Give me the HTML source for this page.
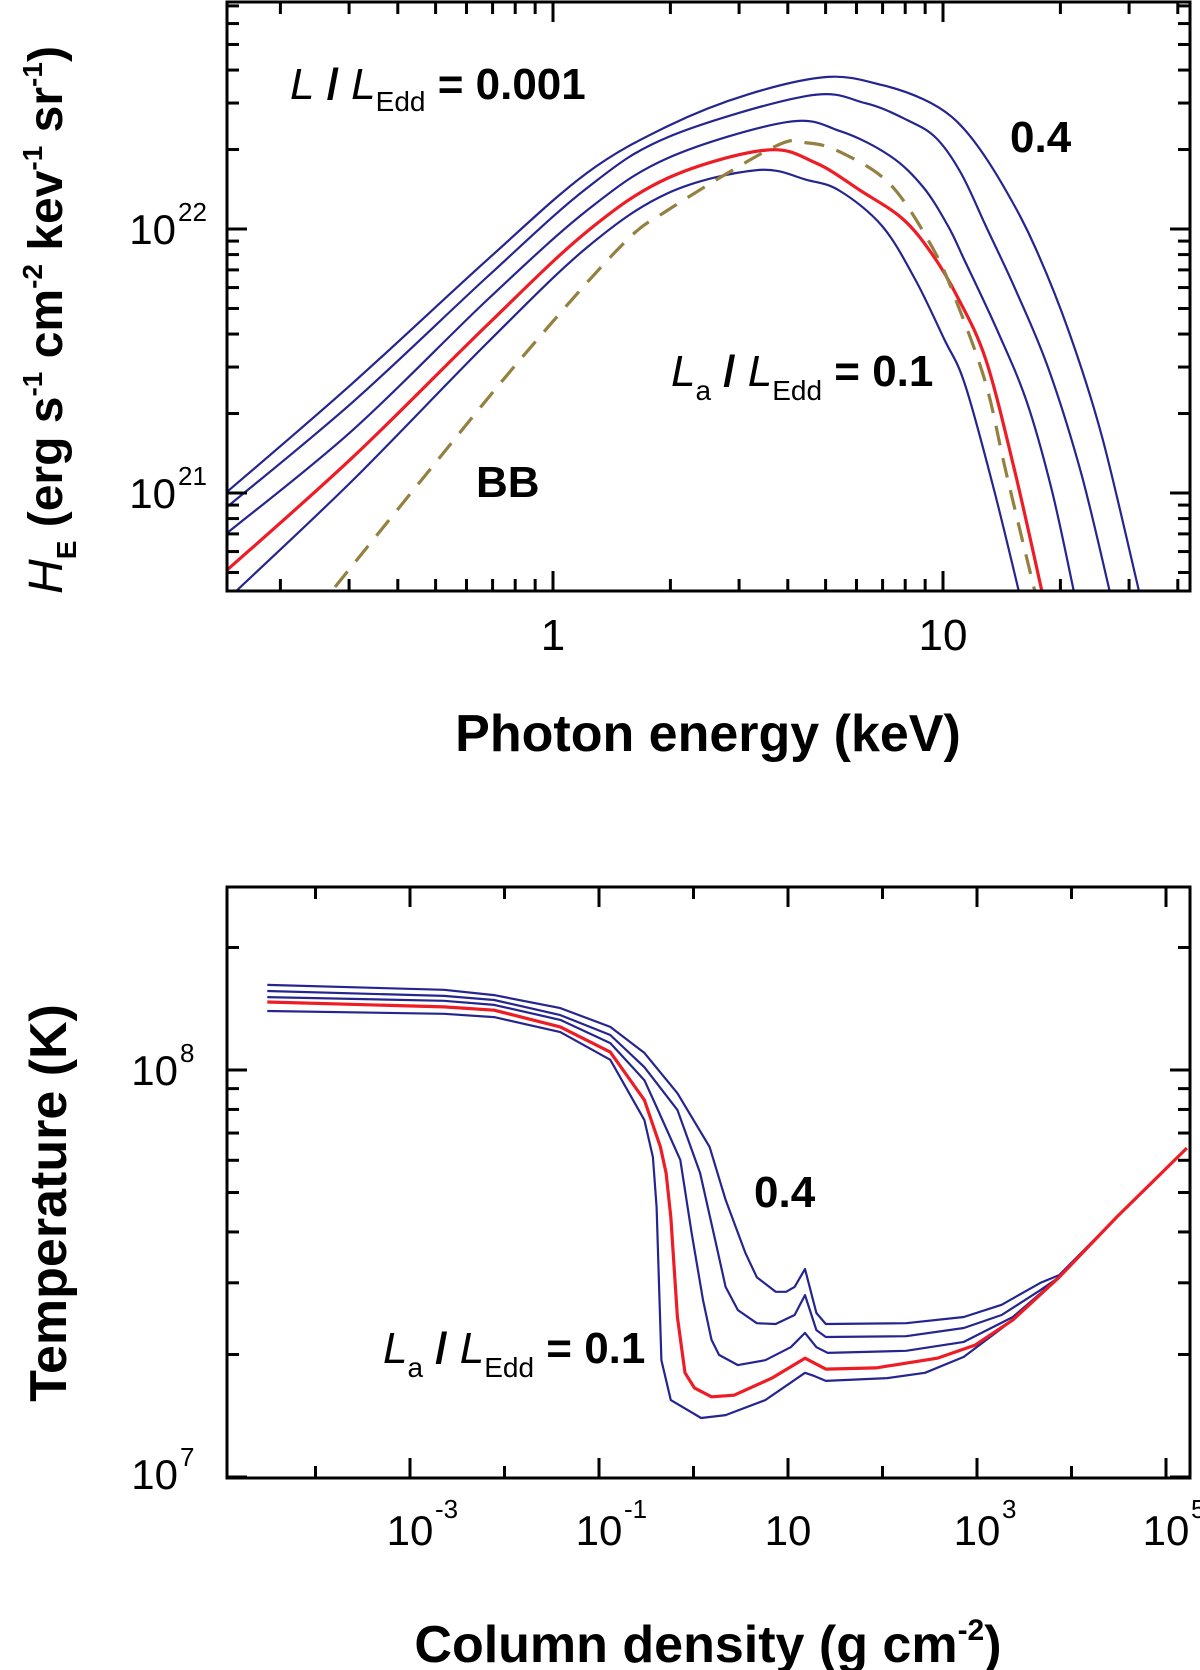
<!DOCTYPE html>
<html><head><meta charset="utf-8"><style>
html,body{margin:0;padding:0;background:#fff;}
svg{display:block;font-family:"Liberation Sans",sans-serif;}
</style></head><body>
<svg id="fig" width="1200" height="1670" viewBox="0 0 1200 1670" xmlns="http://www.w3.org/2000/svg">
<defs>
<clipPath id="clipTop"><rect x="227" y="2" width="963" height="589"/></clipPath>
<clipPath id="clipBot"><rect x="227" y="887" width="963" height="591"/></clipPath>
</defs>
<g id="top"></g>
<g id="bot"></g>

<text x="708" y="751" font-size="52" font-weight="bold" text-anchor="middle">Photon energy (keV)</text>
<text transform="translate(62,320) rotate(-90)" font-size="48" font-weight="bold" text-anchor="middle"><tspan font-style="italic" font-weight="normal">H</tspan><tspan font-size="28" dy="14">E</tspan><tspan dy="-14"> (erg s</tspan><tspan font-size="28" dy="-20">-1</tspan><tspan dy="20"> cm</tspan><tspan font-size="28" dy="-20">-2</tspan><tspan dy="20"> kev</tspan><tspan font-size="28" dy="-20">-1</tspan><tspan dy="20"> sr</tspan><tspan font-size="28" dy="-20">-1</tspan><tspan dy="20">)</tspan></text>

<text x="290" y="99" font-size="44" font-weight="bold"><tspan font-style="italic" font-weight="normal">L</tspan><tspan> / </tspan><tspan font-style="italic" font-weight="normal">L</tspan><tspan font-size="28" dy="12" font-weight="normal">Edd</tspan><tspan dy="-12"> = 0.001</tspan></text>
<text x="1010" y="152" font-size="44" font-weight="bold">0.4</text>
<text x="671" y="386" font-size="44" font-weight="bold"><tspan font-style="italic" font-weight="normal">L</tspan><tspan font-size="28" dy="14" font-weight="normal">a</tspan><tspan dy="-14"> / </tspan><tspan font-style="italic" font-weight="normal">L</tspan><tspan font-size="28" dy="14" font-weight="normal">Edd</tspan><tspan dy="-14"> = 0.1</tspan></text>
<text x="476" y="497" font-size="44" font-weight="bold">BB</text>

<text x="708" y="1662" font-size="52" font-weight="bold" text-anchor="middle">Column density (g cm<tspan font-size="30" dy="-22">-2</tspan><tspan dy="22">)</tspan></text>
<text transform="translate(66,1203) rotate(-90)" font-size="52" font-weight="bold" text-anchor="middle">Temperature (K)</text>
<text x="754" y="1207" font-size="44" font-weight="bold">0.4</text>
<text x="383" y="1363" font-size="44" font-weight="bold"><tspan font-style="italic" font-weight="normal">L</tspan><tspan font-size="28" dy="14" font-weight="normal">a</tspan><tspan dy="-14"> / </tspan><tspan font-style="italic" font-weight="normal">L</tspan><tspan font-size="28" dy="14" font-weight="normal">Edd</tspan><tspan dy="-14"> = 0.1</tspan></text>
</svg>
<script>
// ---------- TOP PANEL DATA (log10 E [keV], log10 H) ----------
const topCurve1 = [[-0.836,21.004],[-0.513,21.417],[-0.169,21.883],[0.087,22.212],[0.295,22.390],[0.50,22.51],[0.705,22.576],[0.844,22.545],[0.949,22.492],[1.023,22.424],[1.087,22.318],[1.162,22.144],[1.236,21.932],[1.323,21.610],[1.408,21.212],[1.503,20.625]];
const topCurve2 = [[-0.836,20.947],[-0.513,21.345],[-0.169,21.818],[0.087,22.155],[0.295,22.348],[0.651,22.504],[0.800,22.477],[0.908,22.413],[0.982,22.345],[1.046,22.212],[1.110,22.011],[1.185,21.773],[1.269,21.477],[1.354,21.076],[1.428,20.625]];
const topCurve3 = [[-0.836,20.848],[-0.513,21.239],[-0.169,21.731],[0.087,22.07],[0.295,22.269],[0.600,22.405],[0.736,22.371],[0.864,22.277],[0.949,22.159],[1.013,22.011],[1.056,21.879],[1.141,21.610],[1.215,21.345],[1.279,21.011],[1.336,20.625]];
const topRed = [[-0.836,20.708],[-0.513,21.136],[-0.169,21.636],[0.087,21.99],[0.295,22.193],[0.546,22.299],[0.674,22.250],[0.790,22.144],[0.897,22.038],[0.972,21.905],[1.036,21.746],[1.110,21.504],[1.185,21.076],[1.254,20.625]];
const topCurve5 = [[-0.815,20.625],[-0.513,21.049],[-0.169,21.568],[0.087,21.93],[0.295,22.136],[0.523,22.223],[0.651,22.186],[0.736,22.144],[0.844,22.011],[0.928,21.811],[1.003,21.583],[1.056,21.413],[1.131,21.011],[1.195,20.625]];
const topBB = [[-0.559,20.644],[-0.341,21.042],[-0.085,21.504],[0.172,21.932],[0.295,22.072],[0.567,22.311],[0.651,22.326],[0.736,22.292],[0.864,22.170],[0.972,21.932],[1.036,21.720],[1.110,21.413],[1.162,21.076],[1.236,20.625]];
const topXTickLabels = ["1","10"];
const topXTickValues = [1,10];
const topYTickExps = [21,22];

// ---------- BOTTOM PANEL DATA (log10 column density, log10 T) ----------
const botCurve1 = [[-4.51,8.209],[-2.64,8.197],[-2.11,8.184],[-1.41,8.152],[-0.88,8.106],[-0.52,8.042],[-0.17,7.943],[0.17,7.811],[0.34,7.681],[0.55,7.550],[0.67,7.491],[0.87,7.455],[0.98,7.455],[1.07,7.467],[1.18,7.511],[1.30,7.403],[1.40,7.376],[2.25,7.378],[2.86,7.393],[3.26,7.423],[3.67,7.477],[3.87,7.496],[4.48,7.639],[5.22,7.808]];
const botCurve2 = [[-4.51,8.194],[-2.64,8.182],[-2.11,8.172],[-1.41,8.135],[-0.88,8.086],[-0.52,8.007],[-0.17,7.902],[0.07,7.747],[0.23,7.582],[0.34,7.467],[0.47,7.410],[0.67,7.378],[0.87,7.376],[1.07,7.398],[1.18,7.447],[1.30,7.361],[1.40,7.344],[2.25,7.346],[2.86,7.366],[3.26,7.398],[3.67,7.459],[3.87,7.491],[4.48,7.639],[5.22,7.808]];
const botCurve3 = [[-4.51,8.179],[-2.64,8.170],[-2.11,8.160],[-1.41,8.123],[-0.88,8.066],[-0.52,7.975],[-0.39,7.909],[-0.14,7.779],[-0.02,7.600],[0.10,7.435],[0.19,7.337],[0.27,7.300],[0.47,7.275],[0.76,7.287],[1.03,7.319],[1.18,7.354],[1.30,7.319],[1.42,7.305],[2.25,7.310],[2.86,7.332],[3.38,7.393],[3.87,7.491],[4.48,7.639],[5.22,7.808]];
const botRed = [[-4.51,8.167],[-2.64,8.155],[-2.11,8.147],[-1.41,8.106],[-0.88,8.044],[-0.52,7.926],[-0.35,7.811],[-0.29,7.747],[-0.24,7.639],[-0.17,7.393],[-0.09,7.256],[0.01,7.219],[0.19,7.197],[0.43,7.201],[0.83,7.243],[1.18,7.292],[1.40,7.265],[1.93,7.268],[2.58,7.292],[2.98,7.324],[3.38,7.386],[3.87,7.491],[4.48,7.639],[5.22,7.808]];
const botCurve5 = [[-4.51,8.145],[-2.64,8.138],[-2.11,8.130],[-1.41,8.093],[-0.88,8.025],[-0.52,7.877],[-0.43,7.786],[-0.39,7.663],[-0.34,7.287],[-0.24,7.189],[0.08,7.145],[0.34,7.152],[0.76,7.189],[1.18,7.256],[1.28,7.248],[1.40,7.236],[2.05,7.243],[2.45,7.256],[2.86,7.295],[3.38,7.386],[3.87,7.491],[4.48,7.639],[5.22,7.808]];
const botXTickExps = [-3,-1,1,3,5];
const botYTickExps = [7,8];

const NS = "http://www.w3.org/2000/svg";
function mk(tag, attrs, parent){const e=document.createElementNS(NS,tag);for(const k in attrs)e.setAttribute(k,attrs[k]);parent.appendChild(e);return e;}

const T = {x0:227,x1:1190,y0:2,y1:591};
const tx = l => 553 + 390*l;
const ty = l => 229 - 264*(l-22);
const B = {x0:227,x1:1190,y0:887,y1:1478};
const bx = l => 788 + 94.5*(l-1);
const by = l => 1070 - 407*(l-8);

function smoothPath(pts, fx, fy){
  const p = pts.map(d=>[fx(d[0]),fy(d[1])]);
  let s = "M"+p[0][0].toFixed(1)+","+p[0][1].toFixed(1);
  for(let i=0;i<p.length-1;i++){
    const p0=p[Math.max(0,i-1)],p1=p[i],p2=p[i+1],p3=p[Math.min(p.length-1,i+2)];
    const c1=[p1[0]+(p2[0]-p0[0])/6,p1[1]+(p2[1]-p0[1])/6];
    const c2=[p2[0]-(p3[0]-p1[0])/6,p2[1]-(p3[1]-p1[1])/6];
    s+=" C"+c1[0].toFixed(1)+","+c1[1].toFixed(1)+" "+c2[0].toFixed(1)+","+c2[1].toFixed(1)+" "+p2[0].toFixed(1)+","+p2[1].toFixed(1);
  }
  return s;
}
function linePath(pts, fx, fy){
  return pts.map((d,i)=>(i?"L":"M")+fx(d[0]).toFixed(1)+","+fy(d[1]).toFixed(1)).join(" ");
}

const BLUE="#25258f", RED="#ee1c25", OLIVE="#94803f";
const gt = document.getElementById("top");
const gb = document.getElementById("bot");

// ---------- TOP ----------
const ct = mk("g",{"clip-path":"url(#clipTop)"},gt);


[[topCurve1,BLUE,2.2,'curve-ratio-04'],[topCurve2,BLUE,2.2,'curve-2'],[topCurve3,BLUE,2.2,'curve-3'],[topCurve5,BLUE,2.2,'curve-ratio-001'],[topRed,RED,3.2,'curve-ratio-01']].forEach(c=>{
  const e=mk("path",{d:smoothPath(c[0],tx,ty),fill:"none",stroke:c[1],"stroke-width":c[2]},ct);
  
  
});
const bbp = mk("path",{d:smoothPath(topBB,tx,ty),fill:"none",stroke:OLIVE,"stroke-width":3.2,"stroke-dasharray":"20 13"},ct);



const frameT = mk("rect",{x:T.x0,y:T.y0,width:T.x1-T.x0,height:T.y1-T.y0,fill:"none",stroke:"#000","stroke-width":3},gt);



for(let dec=-1; dec<=1; dec++){
  for(let m=1;m<=9;m++){
    const l=dec+Math.log10(m); const x=tx(l);
    if(x<T.x0+1||x>T.x1-1) continue;
    const len = m===1?20:12;
    const a=mk("line",{x1:x,y1:T.y1,x2:x,y2:T.y1-len,stroke:"#000","stroke-width":3},gt);
    
    
    const b=mk("line",{x1:x,y1:T.y0,x2:x,y2:T.y0+len,stroke:"#000","stroke-width":3},gt);
    
    
  }
}
topXTickValues.forEach((v,i)=>{
  const t=mk("text",{x:tx(Math.log10(v)),y:650,"font-size":44,"text-anchor":"middle"},gt);
  t.textContent=topXTickLabels[i];
  
  
});
for(let dec=20; dec<=22; dec++){
  for(let m=1;m<=9;m++){
    const l=dec+Math.log10(m); const y=ty(l);
    if(y<T.y0+1||y>T.y1-1) continue;
    const len = m===1?20:12;
    const a=mk("line",{x1:T.x0,y1:y,x2:T.x0+len,y2:y,stroke:"#000","stroke-width":3},gt);
    
    
    const b=mk("line",{x1:T.x1,y1:y,x2:T.x1-len,y2:y,stroke:"#000","stroke-width":3},gt);
    
    
  }
}
topYTickExps.forEach(e=>{
  const t=mk("text",{x:176,y:ty(e)+15,"font-size":42,"text-anchor":"end"},gt);
  t.textContent="10";
  
  
  const s=mk("text",{x:178,y:ty(e)-8,"font-size":26,"text-anchor":"start"},gt);
  s.textContent=String(e);
  
  
});

// ---------- BOTTOM ----------
const cb = mk("g",{"clip-path":"url(#clipBot)","stroke-linejoin":"round"},gb);


[[botCurve1,BLUE,2.2,'curve-ratio-04'],[botCurve2,BLUE,2.2,'curve-2'],[botCurve3,BLUE,2.2,'curve-3'],[botCurve5,BLUE,2.2,'curve-ratio-001'],[botRed,RED,3.2,'curve-ratio-01']].forEach(c=>{
  const e=mk("path",{d:linePath(c[0],bx,by),fill:"none",stroke:c[1],"stroke-width":c[2]},cb);
  
  
});
const frameB = mk("rect",{x:B.x0,y:B.y0,width:B.x1-B.x0,height:B.y1-B.y0,fill:"none",stroke:"#000","stroke-width":3},gb);


for(let d=-5; d<=5; d++){
  const x=bx(d);
  if(x<B.x0+1||x>B.x1-1) continue;
  const len = (Math.abs(d)%2===1)?20:12;
  const a=mk("line",{x1:x,y1:B.y1,x2:x,y2:B.y1-len,stroke:"#000","stroke-width":3},gb);
  
  
  const b=mk("line",{x1:x,y1:B.y0,x2:x,y2:B.y0+len,stroke:"#000","stroke-width":3},gb);
  
  
}
botXTickExps.forEach(e=>{
  const x=bx(e);
  const t=mk("text",{x:x,y:1545,"font-size":42,"text-anchor":"middle"},gb);
  t.textContent="10";
  
  
  if(e!==1){
    const s=mk("text",{x:x+25,y:1518,"font-size":26},gb);
    s.textContent=String(e);
    
    
  }
});
for(let dec=7; dec<=8; dec++){
  for(let m=1;m<=9;m++){
    const l=dec+Math.log10(m); const y=by(l);
    if(y<B.y0+1||y>B.y1+1) continue;
    const len = m===1?20:12;
    const a=mk("line",{x1:B.x0,y1:y,x2:B.x0+len,y2:y,stroke:"#000","stroke-width":3},gb);
    
    
    const b=mk("line",{x1:B.x1,y1:y,x2:B.x1-len,y2:y,stroke:"#000","stroke-width":3},gb);
    
    
  }
}
botYTickExps.forEach(e=>{
  const y = e===7 ? by(e)+12 : by(e)+15;
  const t=mk("text",{x:178,y:y,"font-size":42,"text-anchor":"end"},gb);
  t.textContent="10";
  
  
  const s=mk("text",{x:180,y:y-23,"font-size":26},gb);
  s.textContent=String(e);
  
  
});
</script>
</body></html>
